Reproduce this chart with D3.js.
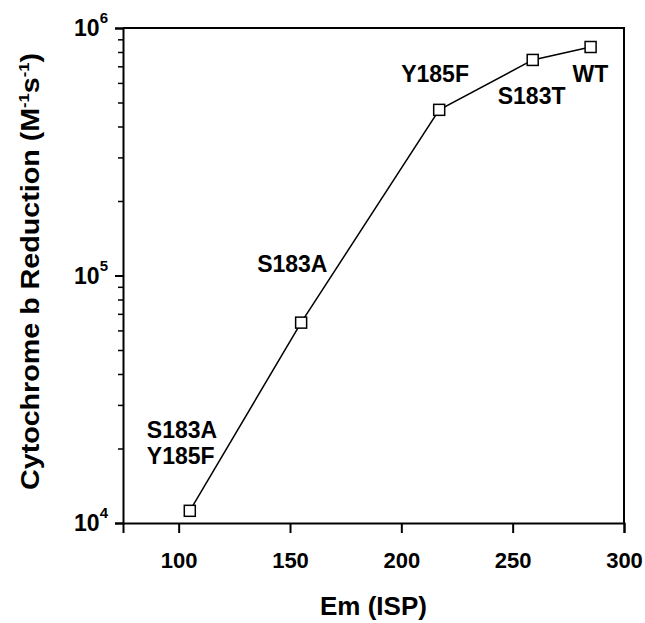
<!DOCTYPE html>
<html>
  <head>
    <meta charset="UTF-8">
    <title>Cytochrome b reduction vs Em</title>
    <script src="https://d3js.org/d3.v7.min.js"></script>
    <style>
      body { margin: 0; background: #fff; }
      text { font-family: "Liberation Sans", Arial, sans-serif; font-weight: bold; fill: #000; }
    </style>
  </head>

  <body>
    <div class="chart"></div>

    <script type="application/javascript">
      // values
      const mutants = ["S183A|Y185F", "S183A", "Y185F", "S183T", "WT"];
      const emISP = [105, 155, 217, 259, 285];
      const rates = [1.12e4, 6.45e4, 4.67e5, 7.43e5, 8.38e5];
      const xTicks = [100, 150, 200, 250, 300];
      const yDecades = [1e4, 1e5, 1e6];

      const W = 645, H = 623;
      const m = {left: 123, right: 21, top: 28, bottom: 100};

      const svg = d3.select(".chart").append("svg")
              .attr("width", W)
              .attr("height", H)

      const x = d3.scaleLinear().domain([75, 300]).range([m.left, W - m.right]);
      const y = d3.scaleLog().domain([1e4, 1e6]).range([H - m.bottom, m.top]);

      // frame (top + right)
      svg.append("path")
        .attr("d", `M${m.left},${m.top}H${W - m.right}V${H - m.bottom}`)
        .attr("fill", "none").attr("stroke", "#000").attr("stroke-width", 2)

      // x axis
      const xAxis = d3.axisBottom(x).tickValues(xTicks).tickSize(10).tickPadding(19);
      const gx = svg.append("g")
              .attr("transform", `translate(0, ${H - m.bottom})`)
              .call(xAxis)
      gx.select(".domain").attr("stroke-width", 2)
      gx.selectAll(".tick line").attr("stroke-width", 2)
      gx.selectAll(".tick text").style("font-size", "22px")

      // y axis: minor ticks then major ticks
      let minor = [];
      yDecades.slice(0, -1).forEach(d => { for (let k = 2; k < 10; k++) minor.push(d * k) })
      const gyMinor = svg.append("g")
              .attr("transform", `translate(${m.left}, 0)`)
              .call(d3.axisLeft(y).tickValues(minor).tickSize(5).tickFormat(""))
      gyMinor.select(".domain").remove()
      gyMinor.selectAll(".tick line").attr("stroke-width", 1.5)

      const gy = svg.append("g")
              .attr("transform", `translate(${m.left}, 0)`)
              .call(d3.axisLeft(y).tickValues(yDecades).tickSize(8).tickFormat(""))
      gy.select(".domain").attr("stroke-width", 2)
      gy.selectAll(".tick line").attr("stroke-width", 2)

      const yl = svg.append("g").selectAll("text").data(yDecades).join("text")
              .attr("x", m.left - 15)
              .attr("y", d => y(d) + 8)
              .attr("text-anchor", "end")
      yl.append("tspan").style("font-size", "23px").text("10")
      yl.append("tspan").attr("dy", -13).style("font-size", "15px").text(d => Math.round(Math.log10(d)))

      // axis titles
      svg.append("text")
        .attr("x", x(187.5))
        .attr("y", 615)
        .attr("text-anchor", "middle")
        .style("font-size", "26px")
        .text("Em (ISP)")

      const yt = svg.append("text")
              .attr("transform", `translate(39, ${y(Math.sqrt(1e4 * 1e6)) - 4}) rotate(-90)`)
              .attr("text-anchor", "middle")
              .style("font-size", "26px")
              .attr("textLength", 437)
              .attr("lengthAdjust", "spacingAndGlyphs")
      yt.append("tspan").text("Cytochrome b Reduction (M")
      yt.append("tspan").attr("dy", -10).style("font-size", "15px").text("-1")
      yt.append("tspan").attr("dy", 10).text("s")
      yt.append("tspan").attr("dy", -10).style("font-size", "15px").text("-1")
      yt.append("tspan").attr("dy", 10).text(")")

      // line + markers
      const pts = emISP.map((e, i) => [e, rates[i]]);
      svg.append("path")
        .datum(pts)
        .attr("d", d3.line().x(d => x(d[0])).y(d => y(d[1])))
        .attr("fill", "none").attr("stroke", "#000").attr("stroke-width", 1.5)

      const s = 11;
      svg.append("g").selectAll("rect").data(pts).join("rect")
        .attr("x", d => x(d[0]) - s / 2)
        .attr("y", d => y(d[1]) - s / 2)
        .attr("width", s).attr("height", s)
        .attr("fill", "#fff").attr("stroke", "#000").attr("stroke-width", 1.5)

      // point labels, offset from each point
      const offs = [[-43, -73], [-44, -51], [-38, -28], [-35, 44], [-18, 35]];
      pts.forEach((d, i) => {
        const t = svg.append("text")
                .attr("x", x(d[0]) + offs[i][0])
                .attr("y", y(d[1]) + offs[i][1])
                .style("font-size", "23px")
        mutants[i].split("|").forEach((line, j) => {
          t.append("tspan")
            .attr("x", x(d[0]) + offs[i][0])
            .attr("dy", j == 0 ? 0 : 26)
            .text(line)
        })
      })
    </script>
  </body>

</html>
